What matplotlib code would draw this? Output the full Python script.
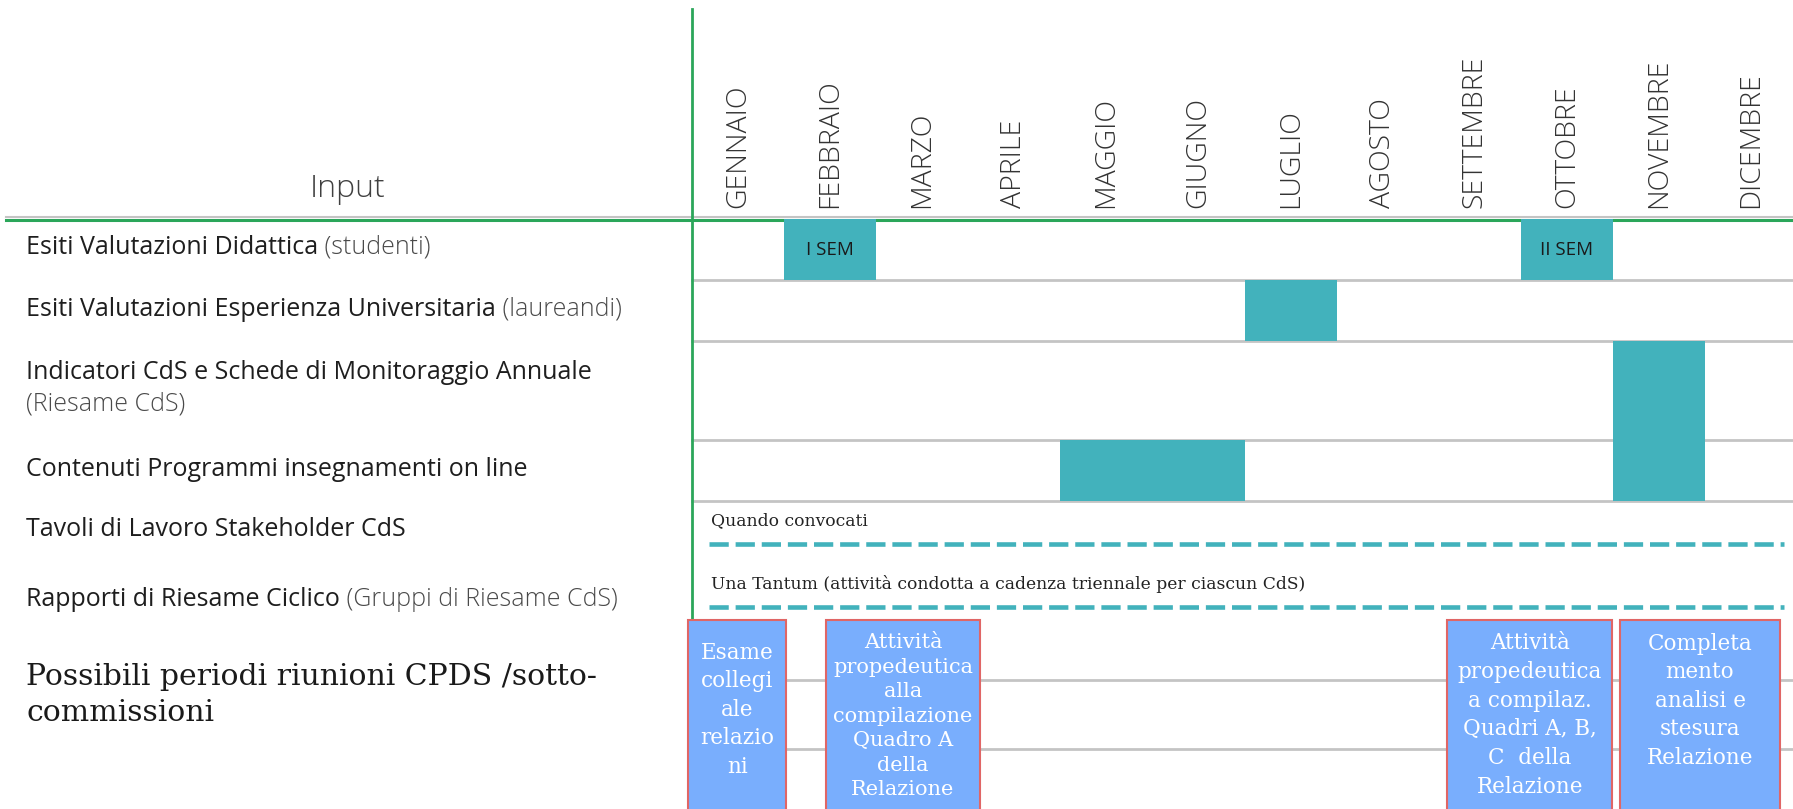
import matplotlib
matplotlib.use("Agg")
from matplotlib import pyplot as plt
from matplotlib.patches import Rectangle

# dati
mesi = ["GENNAIO", "FEBBRAIO", "MARZO", "APRILE", "MAGGIO", "GIUGNO",
        "LUGLIO", "AGOSTO", "SETTEMBRE", "OTTOBRE", "NOVEMBRE", "DICEMBRE"]

voci = ["Esiti Valutazioni Didattica",
        "Esiti Valutazioni Esperienza Universitaria",
        "Indicatori CdS e Schede di Monitoraggio Annuale",
        "Contenuti Programmi insegnamenti on line",
        "Tavoli di Lavoro Stakeholder CdS",
        "Rapporti di Riesame Ciclico"]
voci_note = ["(studenti)", "(laureandi)", "(Riesame CdS)", "", "", "(Gruppi di Riesame CdS)"]

# blocchi pieni: (riga, mese inizio, n. mesi, etichetta)
blocchi = [(0, 1, 1, "I SEM"), (0, 9, 1, "II SEM"),
           (1, 6, 1, ""),
           (2, 10, 1, ""),
           (3, 4, 2, ""), (3, 10, 1, "")]

# attività tratteggiate
note_tratteggio = ["Quando convocati",
                   "Una Tantum (attività condotta a cadenza triennale per ciascun CdS)"]

# riunioni CPDS: (inizio, fine) in mesi, testo
riunioni = [(-0.04, 1.02, "Esame\ncollegi\nale\nrelazio\nni"),
            (1.45, 3.13, "Attività\npropedeutica\nalla\ncompilazione\nQuadro A\ndella\nRelazione"),
            (8.20, 9.99, "Attività\npropedeutica\na compilaz.\nQuadri A, B,\nC  della\nRelazione"),
            (10.08, 11.81, "Completa\nmento\nanalisi e\nstesura\nRelazione")]

TEAL = "#42b2bc"
VERDE = "#2ba65a"
GRIGIO = "#c4c4c4"
BLU = "#79aefd"
ROSSO = "#e06666"

W, H = 1793, 809
x0, dx = 692, 92.1  # pixel del mese 0 e larghezza colonna

fig = plt.figure(figsize=(W / 100, H / 100), dpi=100)
ax = fig.add_axes([0, 0, 1, 1])
ax.set_xlim(-x0 / dx, (W - x0) / dx)
ax.set_ylim(H, 0)
ax.axis("off")

def px(x):
    return (x - x0) / dx

# bordi delle righe (pixel y)
righe_y = [219, 280, 341, 440, 501]
for y in righe_y[1:]:
    ax.plot([0, 12], [y, y], color=GRIGIO, lw=2, zorder=1)
for y in [680, 749]:
    ax.plot([0, 12], [y, y], color=GRIGIO, lw=2, zorder=1)

# linee verdi
ax.plot([px(6), 12], [217, 217], color=GRIGIO, lw=1.5, zorder=2)
ax.plot([px(6), 12], [220, 220], color=VERDE, lw=2.2, zorder=3)
ax.plot([0, 0], [9, 618], color=VERDE, lw=2, zorder=3)

# mesi
for i, m in enumerate(mesi):
    ax.text(i + 0.5, 208, m, rotation=90, ha="center", va="bottom",
            fontsize=20.5, family="Open Sans", fontweight="light", color="#333333")

ax.text(px(348), 189, "Input", ha="center", va="center", fontsize=23,
        family="Open Sans", fontweight="light", color="#404040")

# blocchi
for r, s, n, lab in blocchi:
    ax.add_patch(Rectangle((s, righe_y[r]), n, righe_y[r + 1] - righe_y[r],
                           facecolor=TEAL, edgecolor="none", zorder=4))
    if lab:
        ax.text(s + n / 2, (righe_y[r] + righe_y[r + 1]) / 2, lab, ha="center",
                va="center", fontsize=13.5, family="Open Sans", color="#1a1a1a", zorder=5)

# etichette a sinistra
voci_y = [247, 309, 372, 469, 529, 599]
fs_voci = 18
for i, (v, nota) in enumerate(zip(voci, voci_note)):
    t = ax.text(px(26), voci_y[i], v, ha="left", va="center", fontsize=fs_voci,
                family="Open Sans", color="#1e1e1e")
    if nota and i != 2:
        ax.annotate(" " + nota, xy=(1, 0), xycoords=t, ha="left", va="bottom",
                    fontsize=fs_voci, family="Open Sans", fontweight="light", color="#4a4a4a")
    elif nota:
        ax.text(px(26), 404, nota, ha="left", va="center", fontsize=fs_voci,
                family="Open Sans", fontweight="light", color="#4a4a4a")

# tratteggi
for y, nota in zip([544, 607], note_tratteggio):
    ax.plot([px(709), px(1784)], [y, y], color=TEAL, lw=3.3, dashes=(4.2, 1.5), zorder=3)
    ax.text(px(711), y - 23, nota, ha="left", va="center", fontsize=12.3,
            family="DejaVu Serif", color="#222222")

ax.text(px(26), 695, "Possibili periodi riunioni CPDS /sotto-\ncommissioni", ha="left",
        va="center", fontsize=21.5, family="DejaVu Serif", color="#1a1a1a",
        linespacing=1.35)

# riquadri riunioni
stile_riunioni = [(15.5, 1.38, 642), (15, 1.37, 633), (15.5, 1.4, 632), (15.5, 1.38, 633)]
for (s, e, testo), (fs, ls, ty) in zip(riunioni, stile_riunioni):
    ax.add_patch(Rectangle((s, 620), e - s, 200, facecolor=BLU, edgecolor=ROSSO,
                           lw=1.5, zorder=6))
    ax.text((s + e) / 2, ty, testo, ha="center", va="top", fontsize=fs,
            family="DejaVu Serif", color="white", linespacing=ls, zorder=7)

plt.savefig("out.png", dpi=100)
